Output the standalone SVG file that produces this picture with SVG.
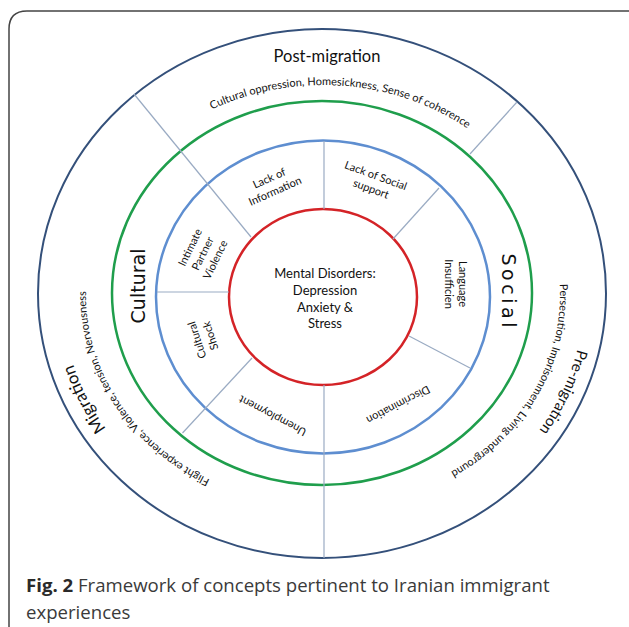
<svg xmlns="http://www.w3.org/2000/svg" width="629" height="627" viewBox="0 0 629 627">
<style>
.ring{fill:none}
.div{stroke:#9aabc3;stroke-width:1.2;fill:none}
.t{font-family:Lato,"Open Sans",sans-serif;fill:#111}
.sm{font-size:11px}
.big{font-family:"DejaVu Sans",sans-serif;font-size:19px;fill:#111}
.cap{font-family:"Open Sans","Liberation Sans",sans-serif;fill:#3a3a3a;font-size:18.6px}
</style>
<defs>
<path id="pTop" d="M141.5,160 A237,210 0 0 1 528.2,190"/>
<path id="pRight" d="M528.2,190 A237,210 0 0 1 356,503"/>
<path id="pLeft" d="M302.3,504.2 A237,210 0 0 1 111.8,199.7"/>
<path id="pMig" d="M193.5,504 A261,241 0 0 1 66.8,249.4"/>
<path id="pPre" d="M578.3,245.3 A261,241 0 0 1 461.3,499.7"/>
</defs>
<rect width="629" height="627" fill="#fff"/>
<path d="M9,627 V29 Q9,11 27,11 H629" fill="none" stroke="#444" stroke-width="1.5"/>

<g id="rings">
<ellipse class="ring" cx="322" cy="293.5" rx="284" ry="264.5" stroke="#34507a" stroke-width="2"/>
<ellipse class="ring" cx="322" cy="293" rx="210" ry="192" stroke="#1f9e4c" stroke-width="2.5"/>
<ellipse class="ring" cx="323" cy="297" rx="167" ry="156.5" stroke="#5e8ed0" stroke-width="2.5"/>
<ellipse class="ring" cx="323" cy="297" rx="94" ry="88" stroke="#d42327" stroke-width="2.5"/>
</g>

<g id="connectors">
<line class="div" x1="134" y1="94" x2="251" y2="237"/>
<line class="div" x1="517" y1="102" x2="470" y2="154"/>
<line class="div" x1="324" y1="385" x2="324" y2="558" stroke="#7d8ea8"/>
<line class="div" x1="252" y1="358" x2="182.5" y2="433"/>
<line class="div" x1="324" y1="141" x2="324" y2="209"/>
<line class="div" x1="439" y1="188" x2="393" y2="239"/>
<line class="div" x1="157" y1="292" x2="229" y2="292"/>
<line class="div" x1="409" y1="336" x2="470" y2="368"/>
</g>

<g id="center" class="t" font-size="13" text-anchor="middle">
<text x="325" y="278">Mental Disorders:</text>
<text x="325" y="295">Depression</text>
<text x="325" y="312">Anxiety &amp;</text>
<text x="325" y="328">Stress</text>
</g>

<g id="lack-information" class="t sm" text-anchor="middle" transform="translate(272,184.5) rotate(-24)">
<text x="0" y="-3">Lack of</text>
<text x="0" y="11">Information</text>
</g>
<g id="lack-social" class="t sm" text-anchor="middle" transform="translate(373.5,182) rotate(20)">
<text x="0" y="-3">Lack of Social</text>
<text x="0" y="11">support</text>
</g>
<g id="intimate" class="t sm" text-anchor="middle" transform="translate(202.5,253.5) rotate(-64)">
<text x="0" y="-10">Intimate</text>
<text x="0" y="4">Partner</text>
<text x="0" y="18">Violence</text>
</g>
<g id="cultural-shock" class="t sm" text-anchor="middle" transform="translate(203.5,338) rotate(-108)">
<text x="0" y="-3">Cultural</text>
<text x="0" y="11">Shock</text>
</g>
<g id="unemployment" class="t sm" text-anchor="middle" transform="translate(272.4,416) rotate(207.6)">
<text x="0" y="4">Unemployment</text>
</g>
<g id="discrimination" class="t sm" text-anchor="middle" transform="translate(398.5,405) rotate(152.3)">
<text x="0" y="4">Discrimination</text>
</g>
<g id="language" class="t sm" text-anchor="middle" transform="translate(456,284) rotate(90)">
<text x="0" y="-3">Language</text>
<text x="0" y="11">Insufficien</text>
</g>

<g id="cultural-label" transform="translate(145,286) rotate(-90)">
<text class="big" text-anchor="middle" x="0" y="0">Cultural</text>
</g>
<g id="social-label" transform="translate(502,290.5) rotate(90)">
<text class="big" text-anchor="middle" textLength="74" lengthAdjust="spacing" x="0" y="0">Social</text>
</g>

<g id="post-migration">
<text class="t" font-size="16.5" text-anchor="middle" x="327" y="62">Post-migration</text>
<text class="t sm" font-size="11.5"><textPath href="#pTop" startOffset="50%" text-anchor="middle">Cultural oppression, Homesickness, Sense of coherence</textPath></text>
</g>
<g id="pre-migration">
<text class="t" font-size="15"><textPath href="#pPre" startOffset="50%" text-anchor="middle">Pre-migration</textPath></text>
<text class="t sm" font-size="11.5"><textPath href="#pRight" startOffset="50%" text-anchor="middle">Persecution, Imprisonment, Living underground</textPath></text>
</g>
<g id="migration">
<text class="t" font-size="17"><textPath href="#pMig" startOffset="50%" text-anchor="middle">Migration</textPath></text>
<text class="t sm" font-size="11.5"><textPath href="#pLeft" startOffset="50%" text-anchor="middle">Flight experience, Violence, tension, Nervousness</textPath></text>
</g>

<g id="caption" class="cap">
<text x="26" y="592"><tspan font-weight="bold" fill="#2a2a2a">Fig. 2</tspan> Framework of concepts pertinent to Iranian immigrant</text>
<text x="26" y="619">experiences</text>
</g>
</svg>
